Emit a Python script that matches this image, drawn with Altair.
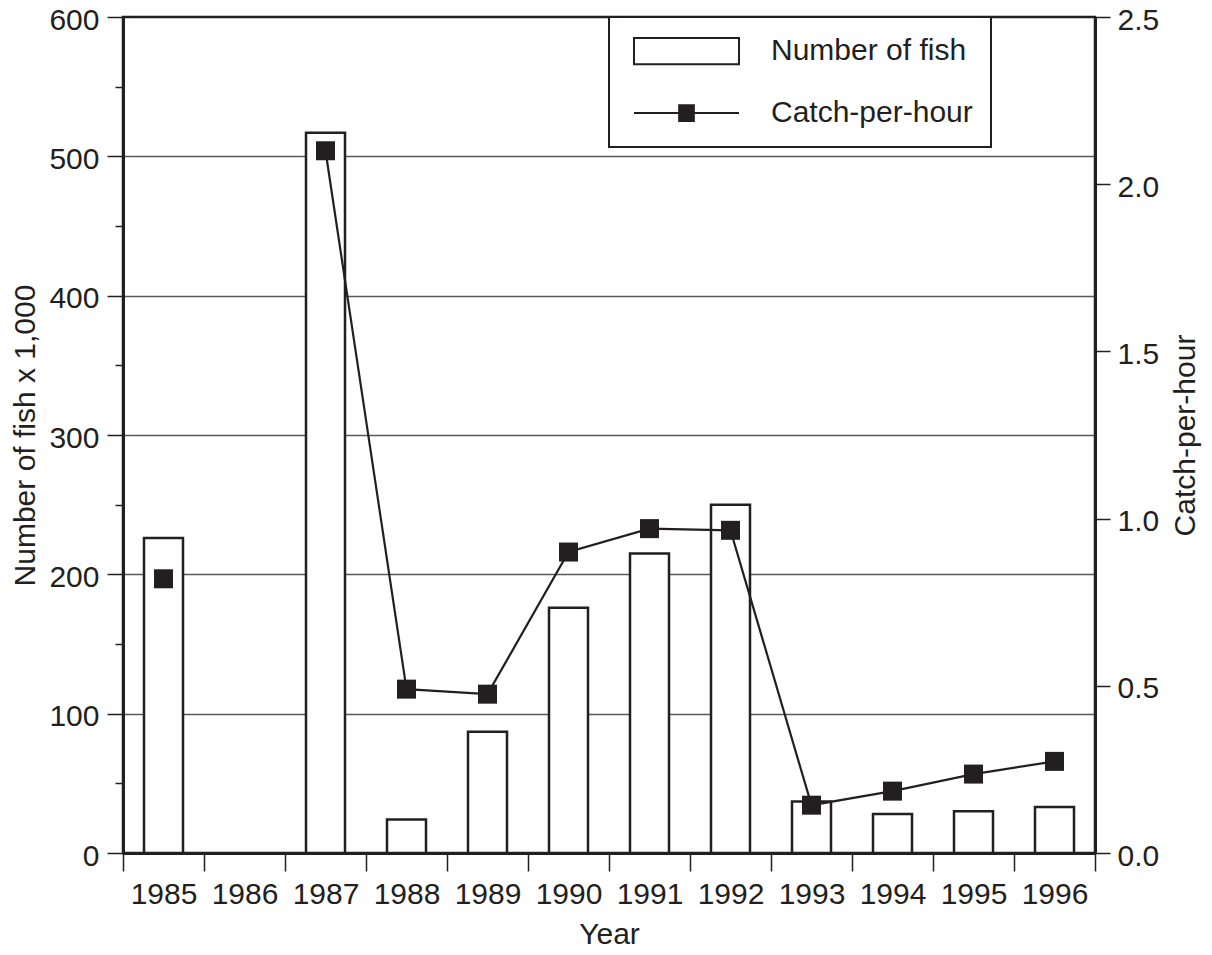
import altair as alt
import pandas as pd

years = ["1985", "1986", "1987", "1988", "1989", "1990",
         "1991", "1992", "1993", "1994", "1995", "1996"]
fish_thousands = [226, None, 517, 24, 87, 176, 215, 250, 37, 28, 30, 33]
catch_per_hour = [0.82, None, 2.10, 0.49, 0.475, 0.90, 0.97, 0.965, 0.143, 0.185, 0.236, 0.274]
legend_labels = ["Number of fish", "Catch-per-hour"]
left_ticks = list(range(0, 601, 50))
right_ticks = [0.0, 0.5, 1.0, 1.5, 2.0, 2.5]

INK = "#231f20"
GRID = "#58595b"
FONT = "Liberation Sans"

df = pd.DataFrame({"year": years, "fish": fish_thousands, "cph": catch_per_hour})
legend_df = pd.DataFrame({"series": legend_labels})

x_enc = alt.X(
    "year:O",
    scale=alt.Scale(domain=years, paddingInner=0, paddingOuter=0),
    axis=alt.Axis(
        title="Year", labelAngle=0, tickBand="extent", tickSize=18, tickWidth=1.5,
        tickColor=INK, labelPadding=8, titlePadding=10, domainWidth=3,
        domainColor=INK, grid=False,
    ),
)

left_axis = alt.Axis(
    title="Number of fish x 1,000",
    orient="left",
    values=left_ticks,
    tickSize={"condition": {"test": "datum.value % 100 != 0", "value": 8}, "value": 16},
    tickWidth=1.5,
    tickColor=INK,
    labelExpr="datum.value % 100 == 0 ? datum.label : ''",
    labelPadding=8,
    labelOffset=3,
    titlePadding=8,
    domainWidth=3,
    domainColor=INK,
    grid=True,
    gridColor=GRID,
    gridWidth=1.5,
    gridOpacity={"condition": {"test": "datum.value % 100 != 0 || datum.value == 0 || datum.value == 600",
                               "value": 0}, "value": 1},
)

right_axis = alt.Axis(
    title="Catch-per-hour",
    orient="right",
    values=right_ticks,
    format=".1f",
    tickSize=15,
    tickWidth=1.5,
    tickColor=INK,
    labelPadding=7,
    labelOffset=3,
    titlePadding=12,
    titleAngle=270,
    titleBaseline="top",
    domainWidth=3,
    domainColor=INK,
    grid=False,
)

bars = alt.Chart(df).mark_bar(size=39, fill="white", stroke=INK, strokeWidth=2.5).encode(
    x=x_enc,
    y=alt.Y("fish:Q", scale=alt.Scale(domain=[0, 600], nice=False, zero=True), axis=left_axis),
)

y_right = alt.Y("cph:Q", scale=alt.Scale(domain=[0, 2.5], nice=False, zero=True), axis=right_axis)

line = alt.Chart(df).mark_line(color=INK, strokeWidth=2.2, invalid="break-paths-show-domains").encode(
    x=x_enc, y=y_right,
)
points = alt.Chart(df).mark_square(size=361, filled=True, color=INK, opacity=1).encode(
    x=x_enc, y=y_right,
)
cph_layer = alt.layer(line, points)

rect_path = "M-1,-0.25H1V0.25H-1Z"
line_sq_path = "M-1,0H1M-0.14,-0.15H0.14V0.15H-0.14Z"

leg = alt.Legend(
    title=None, orient="none", legendX=486, legendY=0,
    symbolSize=11025, symbolOpacity=1, symbolStrokeColor=INK, symbolStrokeWidth=2,
    clipHeight=32, rowPadding=30, symbolOffset=6, labelOffset=31, labelLimit=400,
    labelFont=FONT, labelFontSize=30, labelColor=INK,
    padding=18, strokeColor=INK, fillColor="white",
)

legend_layer = alt.Chart(legend_df).mark_point(opacity=0, strokeWidth=2).encode(
    shape=alt.Shape("series:N", scale=alt.Scale(domain=legend_labels, range=[rect_path, line_sq_path]),
                    legend=leg),
    fill=alt.Fill("series:N", scale=alt.Scale(domain=legend_labels, range=["white", INK]),
                  legend=leg),
    stroke=alt.Stroke("series:N", scale=alt.Scale(domain=legend_labels, range=[INK, INK]),
                      legend=leg),
)

chart = alt.layer(bars, cph_layer, legend_layer).resolve_scale(y="independent").properties(
    width=972, height=836,
    autosize=alt.AutoSizeParams(type="none"),
    padding={"left": 115, "top": 9, "right": 109, "bottom": 94},
).configure_view(
    stroke=INK, strokeWidth=2.5,
).configure_axis(
    labelFont=FONT, labelFontSize=30, labelColor=INK,
    titleFont=FONT, titleFontSize=30, titleFontWeight="normal", titleColor=INK,
).configure_legend(
    strokeWidth=2,
)

chart.save("out.html", embed_options={"renderer": "svg", "actions": False})
